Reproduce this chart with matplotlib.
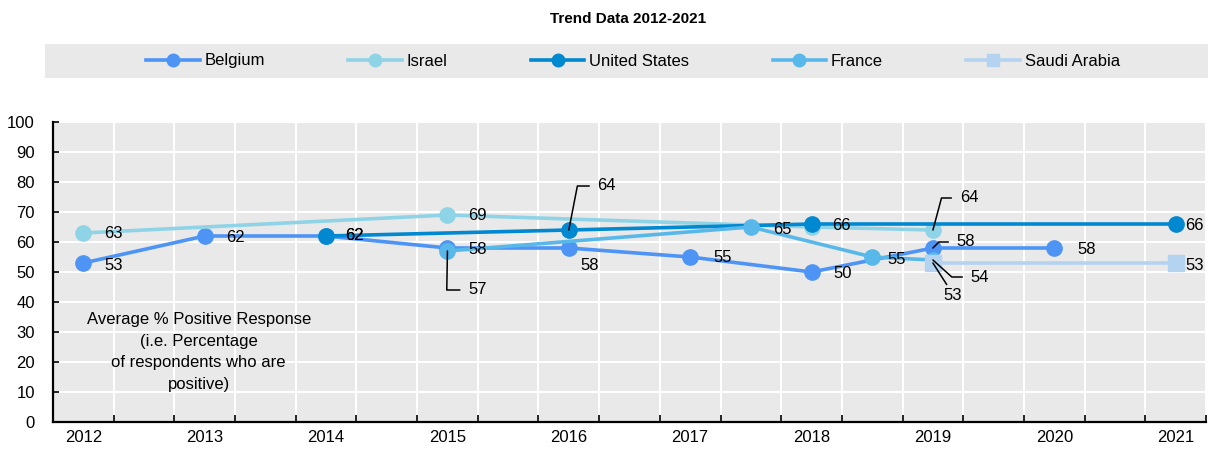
import matplotlib.pyplot as plt
from matplotlib.patches import Rectangle
from matplotlib.lines import Line2D

plt.rcParams['font.family'] = ['Liberation Sans', 'DejaVu Sans']

# data
names = ["Belgium", "Israel", "United States", "France", "Saudi Arabia"]
belgium_years = [2012, 2013, 2014, 2015, 2016, 2017, 2018, 2019, 2020]
belgium_vals = [53, 62, 62, 58, 58, 55, 50, 58, 58]
israel_years = [2012, 2015, 2018, 2019]
israel_vals = [63, 69, 65, 64]
us_years = [2014, 2016, 2018, 2021]
us_vals = [62, 64, 66, 66]
france_years = [2015, 2017.5, 2018.5, 2019]
france_vals = [57, 65, 55, 54]
saudi_years = [2019, 2021]
saudi_vals = [53, 53]
year_labels = list(range(2012, 2022))

colors = ["#4d94f5", "#8fd4e6", "#0088d0", "#58b8ea", "#b4d3f0"]
markers = ["o", "o", "o", "o", "s"]

# label offsets in pixels (dx right, dy down), None = no label
belgium_off = [(30, 2), (31, 1), (28, -1), (30, 1), (21, 18), (32, 1), (31, 1), (33, -6), (32, 1)]
israel_off = [(30, 0), (30, 1), None, (36, -32)]
us_off = [(28, -1), (38, -44), (30, 2), (19, 2)]
france_off = [(30, 39), (32, 2), (24, 2), (47, 17)]
saudi_off = [(20, 33), (19, 2)]

# leader lines: (series, point index) -> angle of the segment at the point
leaders = {(0, 7): 45, (1, 3): 75, (2, 1): 79, (3, 0): 89, (3, 3): -42, (4, 0): None}

series = [
    (belgium_years, belgium_vals, belgium_off),
    (israel_years, israel_vals, israel_off),
    (us_years, us_vals, us_off),
    (france_years, france_vals, france_off),
    (saudi_years, saudi_vals, saudi_off),
]

bg = "#e9e9e9"
fs = 12

fig = plt.figure(figsize=(12.08, 4.51), dpi=100)
ax = fig.add_axes([53 / 1208, 1 - 422 / 451, 1153 / 1208, 300 / 451])
ax.set_facecolor(bg)

for i, (xs, ys, offs) in enumerate(series):
    ax.plot(xs, ys, color=colors[i], lw=2.6, marker=markers[i], ms=11,
            label=names[i], zorder=3 + i)
    for j, (x, y) in enumerate(zip(xs, ys)):
        if offs[j] is None:
            continue
        dx, dy = offs[j][0] * 0.72, -offs[j][1] * 0.72
        if (i, j) in leaders:
            ang = leaders[(i, j)]
            if ang is None:
                ap = dict(arrowstyle="-", color="black", lw=1.1,
                          shrinkA=1, shrinkB=0, relpos=(0.3, 1.0))
            else:
                ap = dict(arrowstyle="-", color="black", lw=1.1,
                          shrinkA=4, shrinkB=0, relpos=(0.0, 0.5),
                          connectionstyle="angle,angleA=0,angleB=%d,rad=0" % ang)
            ax.annotate(str(y), (x, y), xytext=(dx, dy), textcoords="offset points",
                        ha="center", va="center", fontsize=fs, arrowprops=ap, zorder=10)
        else:
            ax.annotate(str(y), (x, y), xytext=(dx, dy), textcoords="offset points",
                        ha="center", va="center", fontsize=fs, zorder=10)

ax.set_xlim(2011.75, 2021.25)
ax.set_ylim(0, 100)
ax.set_xticks(year_labels)
ax.set_xticklabels([str(y) for y in year_labels], fontsize=fs)
ax.set_xticks([2012.25 + 0.5 * k for k in range(19)], minor=True)
ax.tick_params(axis="x", which="major", length=0, pad=6)
ax.tick_params(axis="x", which="minor", direction="in", length=5, width=1.2)
ax.set_yticks(range(0, 101, 10))
ax.tick_params(axis="y", direction="in", length=4, width=1.2, labelsize=fs, pad=13)
ax.grid(True, which="minor", axis="x", color="white", lw=1.5)
ax.grid(True, which="major", axis="y", color="white", lw=1.5)
ax.set_axisbelow(True)
for s in ["top", "right"]:
    ax.spines[s].set_visible(False)
for s in ["left", "bottom"]:
    ax.spines[s].set_linewidth(1.6)

ax.text(2012.95, 23.3, "Average % Positive Response\n(i.e. Percentage\nof respondents who are\npositive)",
        ha="center", va="center", fontsize=fs, linespacing=1.55)

fig.text(628 / 1208, 1 - 19 / 451, "Trend Data 2012-2021", ha="center", va="center",
         fontsize=11, fontweight="bold")

# grey legend band
fig.patches.append(Rectangle((45 / 1208, 1 - 78 / 451), 1163 / 1208, 34 / 451,
                             transform=fig.transFigure, facecolor=bg, edgecolor="none"))
handles = [Line2D([0], [0], color=colors[i], lw=2.6, marker=markers[i], ms=9)
           for i in range(len(names))]
fig.legend(handles, names, loc="center", bbox_to_anchor=(633 / 1208, 1 - 61 / 451),
           ncol=5, frameon=False, fontsize=fs, handlelength=3.2, handletextpad=0.3,
           columnspacing=5.0)

fig.savefig("out.png", dpi=100)
